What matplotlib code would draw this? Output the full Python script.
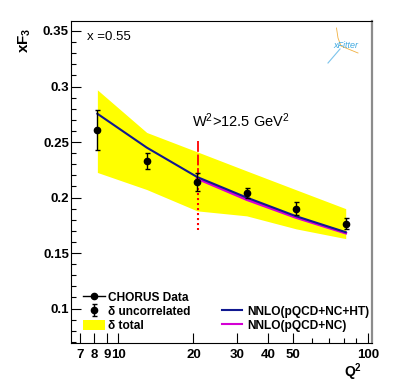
import matplotlib
matplotlib.use("Agg")
import matplotlib.pyplot as plt
from matplotlib.lines import Line2D
from matplotlib.patches import Patch
from matplotlib.ticker import FixedLocator, NullFormatter

plt.rcParams["font.family"] = ["Liberation Sans", "DejaVu Sans"]
plt.rcParams["mathtext.fontset"] = "custom"
plt.rcParams["mathtext.rm"] = "Liberation Sans"
plt.rcParams["mathtext.bf"] = "Liberation Sans:bold"
plt.rcParams["mathtext.it"] = "Liberation Sans:italic"

# CHORUS xF3 at x = 0.55
q2 = [8.24, 13.0, 20.7, 32.7, 51.6, 81.6]
xf3 = [0.2605, 0.2329, 0.2141, 0.2042, 0.1901, 0.1766]
err_unc = [0.018, 0.0072, 0.008, 0.0047, 0.0057, 0.0048]
band_lo = [0.2226, 0.2072, 0.1880, 0.1835, 0.1718, 0.1630]
band_hi = [0.2970, 0.2586, 0.2412, 0.2240, 0.2070, 0.1900]

# theory curves
ht_curve = [0.2755, 0.2450, 0.2185, 0.2000, 0.1832, 0.1688]
q2_nc = [20.7, 32.7, 51.6, 81.6]
nc_curve = [0.2172, 0.1982, 0.1820, 0.1680]

# W^2 cut marker
w2_cut_q2 = 20.8
cut_dashed = [0.2505, 0.2225]
cut_dotted = [0.2225, 0.171]

x_major = [7, 8, 9, 10, 20, 30, 40, 50, 100]
x_labels = ["7", "8", "9", "10", "20", "30", "40", "50", "100"]
x_minor = [60, 70, 80, 90]
y_major = [0.1, 0.15, 0.2, 0.25, 0.3, 0.35]
y_labels = ["0.1", "0.15", "0.2", "0.25", "0.3", "0.35"]
y_minor = [round(0.07 + 0.01 * i, 2) for i in range(29)]

W, H = 407, 387
fig = plt.figure(figsize=(W / 100, H / 100), dpi=100)
ax = fig.add_axes([71 / W, 1 - 343 / H, 301 / W, 322 / H])

ax.fill_between(q2, band_lo, band_hi, color="#ffff00", lw=0, zorder=1)
ax.plot(q2_nc, nc_curve, color="#d400d4", lw=2.0, zorder=2)
ax.plot(q2, ht_curve, color="#101890", lw=1.5, zorder=3)
ax.plot([w2_cut_q2, w2_cut_q2], cut_dashed, color="red", lw=1.3,
        ls=(0, (6, 1.5)), zorder=4)
ax.plot([w2_cut_q2, w2_cut_q2], cut_dotted, color="red", lw=1.5,
        ls=(0, (1, 1.4)), zorder=4)
eb = ax.errorbar(q2, xf3, yerr=err_unc, fmt="o", color="black", ms=4.5,
                 elinewidth=1.0, capsize=1.8, capthick=1.0, zorder=5)

ax.set_xscale("log")
ax.set_xlim(6.46, 104)
ax.set_ylim(0.069, 0.359)

ax.set_xticks(x_major)
ax.set_xticklabels(x_labels)
ax.xaxis.set_minor_locator(FixedLocator(x_minor))
ax.xaxis.set_minor_formatter(NullFormatter())
ax.set_yticks(y_major)
ax.set_yticklabels(y_labels)
ax.yaxis.set_minor_locator(FixedLocator(y_minor))

ax.tick_params(which="both", direction="in", top=False, right=False,
               width=0.8, labelsize=9.5)
ax.tick_params(which="major", length=7)
ax.tick_params(which="minor", length=3.5)
ax.tick_params(axis="x", pad=4)
ax.tick_params(axis="y", pad=1.5)
for lab in ax.get_xticklabels() + ax.get_yticklabels():
    lab.set_fontweight("bold")

for side in ["left", "bottom", "top"]:
    ax.spines[side].set_linewidth(0.8)
ax.spines["right"].set_color("#8c8c8c")
ax.spines["right"].set_linewidth(1.6)

fig.text(25 / W, 1 - 40 / H, r"$\mathbf{xF_3}$", rotation=90,
         ha="center", va="center", fontsize=11)
fig.text(353 / W, 1 - 372 / H, r"$\mathbf{Q^2}$", ha="center", va="center",
         fontsize=10)
ax.text(0.054, 0.95, "x =0.55", transform=ax.transAxes, fontsize=9.5,
        ha="left", va="center")
fig.text(192 / W, 1 - 121 / H, r"W$^2$>12.5 GeV$^2$", fontsize=10.5,
         ha="left", va="center")

# xFitter logo
fig.add_artist(Line2D([336.5 / W, 338 / W, 341 / W, 358 / W],
                      [1 - 28 / H, 1 - 38 / H, 1 - 46 / H, 1 - 53 / H],
                      color="#f0b040", lw=0.6, transform=fig.transFigure))
fig.add_artist(Line2D([328 / W, 334 / W, 340 / W],
                      [1 - 63 / H, 1 - 56 / H, 1 - 49 / H],
                      color="#7cc4ec", lw=0.8, transform=fig.transFigure))
fig.text(346 / W, 1 - 45 / H, "xFitter", style="italic", color="#3fa9e0",
         fontsize=6.5, ha="center", va="center")

h_data = Line2D([], [], color="black", marker="o", ms=4.5, lw=1.0)
h_band = Patch(facecolor="#ffff00", edgecolor="none")
leg1 = ax.legend([h_data, eb, h_band],
                 ["CHORUS Data", "\u03b4 uncorrelated", "\u03b4 total"],
                 loc="lower left", bbox_to_anchor=(0.04, 0.034),
                 frameon=False, borderpad=0, borderaxespad=0,
                 handlelength=1.85, handletextpad=0.25, handleheight=1.0,
                 labelspacing=0.15, prop={"weight": "bold", "size": 8.6})
ax.add_artist(leg1)
h_ht = Line2D([], [], color="#101890", lw=1.5)
h_nc = Line2D([], [], color="#d400d4", lw=1.5)
ax.legend([h_ht, h_nc], ["NNLO(pQCD+NC+HT)", "NNLO(pQCD+NC)"],
          loc="lower left", bbox_to_anchor=(0.502, 0.034),
          frameon=False, borderpad=0, borderaxespad=0,
          handlelength=1.7, handletextpad=0.4, handleheight=1.0,
          labelspacing=0.15, prop={"weight": "bold", "size": 8.6})

fig.savefig("out.png", dpi=100)
